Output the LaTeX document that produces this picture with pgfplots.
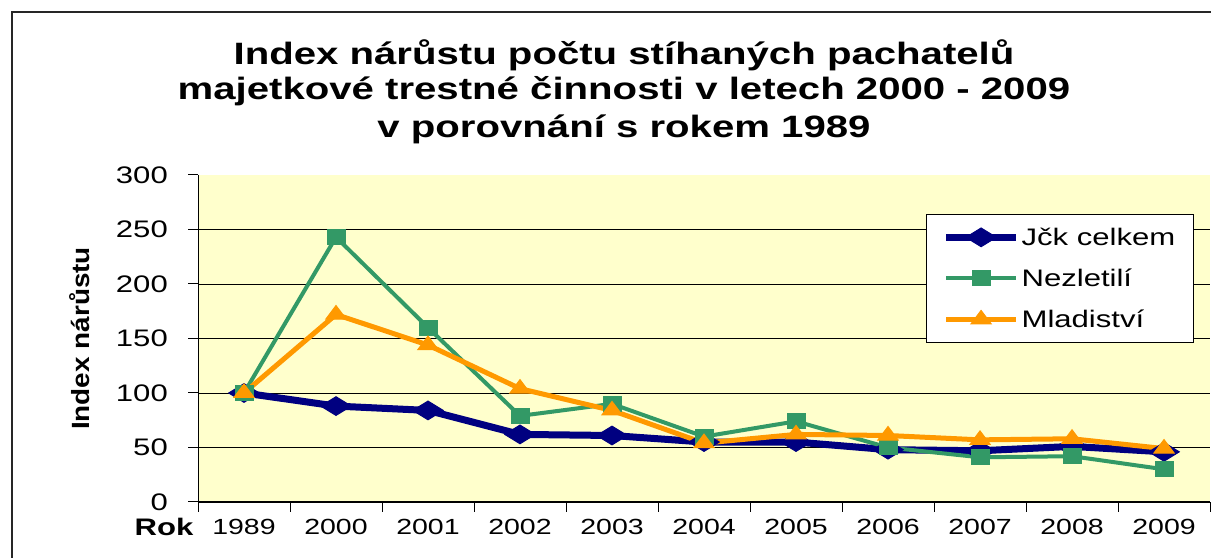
\documentclass[border=0pt]{standalone}
\usepackage{fontspec}
\setmainfont{Liberation Sans}[FakeStretch=1.3]
\newfontfamily\ylfont{Liberation Sans}[FakeStretch=1.12]
\usepackage{pgfplots}
\pgfplotsset{compat=1.18}
\definecolor{navy}{RGB}{0,0,128}
\definecolor{sgreen}{RGB}{51,153,102}
\definecolor{sorange}{RGB}{255,153,0}
\definecolor{bgyellow}{RGB}{255,255,204}
\begin{document}
\begin{tikzpicture}[x=1bp,y=1bp]
\useasboundingbox (0,0) rectangle (1211,558);
\draw[line width=2bp, black!85] (12,-10) -- (12,546) -- (1230,546);
\node[font=\fontsize{31}{37}\selectfont\bfseries, anchor=base] at (624,493) {Index nárůstu počtu stíhaných pachatelů};
\node[font=\fontsize{31}{37}\selectfont\bfseries, anchor=base] at (624,458) {majetkové trestné činnosti v letech 2000 - 2009};
\node[font=\fontsize{31}{37}\selectfont\bfseries, anchor=base] at (624,420) {v porovnání s rokem 1989};
\begin{axis}[
  at={(198bp,56bp)}, anchor=south west,
  scale only axis, width=1012bp, height=327bp,
  xmin=-0.5, xmax=10.5, ymin=0, ymax=300,
  axis background/.style={fill=bgyellow},
  axis x line*=bottom, axis y line*=left,
  axis line style={black, line width=1bp},
  tick align=outside, major tick length=10bp,
  tick style={black, line width=1bp},
  xtick={-0.5,0.5,...,10.5}, xticklabels={},
  extra x ticks={0,1,2,3,4,5,6,7,8,9,10},
  extra x tick labels={1989,2000,2001,2002,2003,2004,2005,2006,2007,2008,2009},
  extra x tick style={major tick length=0pt, grid=none},
  ytick={0,50,100,150,200,250},
  extra y ticks={300},
  extra y tick style={grid=none},
  ymajorgrids, grid style={black, line width=0.8bp},
  /pgf/number format/assume math mode=true,
  xticklabel style={font=\fontsize{22}{26}\selectfont, anchor=base, inner sep=0pt, yshift=-33bp},
  yticklabel style={font=\fontsize{24}{28}\selectfont, anchor=east, inner sep=0pt, xshift=-20bp},
  ylabel={Index nárůstu},
  ylabel style={at={(axis description cs:-0.117,0.5)}, anchor=center, font=\ylfont\fontsize{25}{28}\selectfont\bfseries},
  xlabel={Rok},
  xlabel style={at={(axis description cs:-0.0336,-0.101)}, anchor=base, inner sep=0pt, font=\fontsize{24}{28}\selectfont\bfseries},
  legend style={at={(0.984,0.881)}, anchor=north east, draw=black, line width=1bp, fill=white,
    font=\fontsize{24}{28}\selectfont, row sep=18bp, inner xsep=16bp, inner ysep=11.5bp},
  legend cell align=left,
  legend image code/.code={\draw[mark repeat=2,mark phase=2,#1] plot coordinates {(0bp,0bp) (35bp,0bp) (70bp,0bp)};},
]
\addplot[navy, line width=7bp, mark=diamond*, mark size=11bp, mark options={solid, line width=1bp, xscale=1.85, yscale=0.85}]
  coordinates {(0,100) (1,88) (2,84) (3,62) (4,61) (5,55) (6,55) (7,48) (8,47) (9,51) (10,46)};
\addlegendentry{Jčk celkem}
\addplot[sgreen, line width=4bp, mark=square*, mark size=7.5bp, mark options={solid, line width=1bp, xscale=1.2}]
  coordinates {(0,100) (1,243) (2,160) (3,79) (4,90) (5,60) (6,74) (7,50) (8,41) (9,42) (10,30)};
\addlegendentry{Nezletilí}
\addplot[sorange, line width=5bp, mark=triangle*, mark size=9bp, mark options={solid, line width=1bp, xscale=1.3}]
  coordinates {(0,100) (1,172) (2,144) (3,104) (4,84) (5,54) (6,62) (7,61) (8,57) (9,58) (10,49)};
\addlegendentry{Mladiství}
\end{axis}
\end{tikzpicture}
\end{document}
